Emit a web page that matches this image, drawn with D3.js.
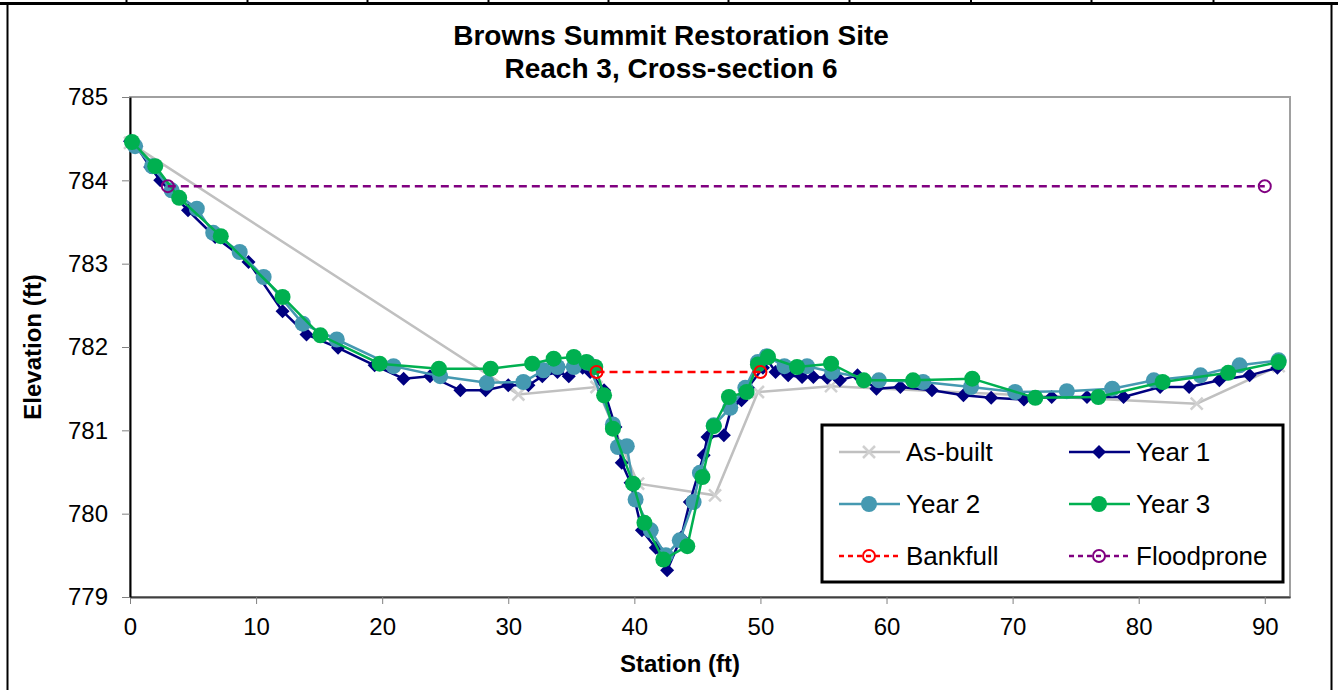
<!DOCTYPE html>
<html>
<head>
<meta charset="utf-8">
<script src="https://cdn.jsdelivr.net/npm/d3@7"></script>
<style>
  body { margin: 0; background: #fff; }
  text { font-family: "Liberation Sans", Arial, sans-serif; }
</style>
</head>
<body>
<div id="chart"></div>
<script>
// station (ft) / elevation (ft) pairs
var asBuiltX = [0, 30.8, 37.0, 40.3, 46.4, 49.8, 55.6, 84.6, 91.1];
var asBuiltY = [784.45, 781.43, 781.52, 780.36, 780.22, 781.46, 781.53, 781.32, 781.77];

var year1X = [0, 0.5, 1.6, 2.4, 4.6, 6.75, 9.4, 12.1, 14.0, 16.5, 19.4, 21.7, 23.8, 26.2, 28.2, 30.0,
  31.6, 32.7, 33.9, 34.8, 35.9, 36.5, 37.6, 38.5, 39.0, 39.7, 40.6, 41.7, 42.6, 43.7, 44.4, 45.5,
  45.8, 47.1, 47.7, 48.5, 49.0, 50.2, 50.4, 51.2, 52.2, 53.3, 54.2, 55.3, 56.3, 57.7, 59.2, 61.1,
  63.6, 66.1, 68.3, 70.9, 73.1, 75.9, 78.8, 81.7, 84.0, 86.4, 88.8, 91.0];
var year1Y = [784.47, 784.41, 784.16, 784.0, 783.64, 783.32, 783.02, 782.43, 782.15, 781.99, 781.78, 781.62,
  781.65, 781.48, 781.48, 781.54, 781.54, 781.65, 781.7, 781.65, 781.75, 781.7, 781.48, 781.04, 780.61,
  780.37, 779.8, 779.59, 779.32, 779.71, 780.14, 780.7, 780.92, 780.94, 781.27, 781.36, 781.51, 781.75,
  781.88, 781.7, 781.66, 781.64, 781.64, 781.63, 781.6, 781.66, 781.5, 781.52, 781.48, 781.42, 781.39,
  781.37, 781.4, 781.4, 781.4, 781.52, 781.52, 781.6, 781.66, 781.75];

var year2X = [0.4, 1.75, 3.3, 5.3, 6.6, 8.7, 10.6, 13.7, 16.4, 20.9, 24.6, 28.3, 31.2, 32.8, 33.9, 35.2,
  36.3, 38.3, 38.7, 39.4, 40.1, 41.3, 42.5, 43.6, 44.7, 45.2, 46.3, 47.6, 48.8, 49.8, 50.5, 51.9,
  53.7, 55.7, 59.4, 62.9, 66.7, 70.2, 74.3, 77.9, 81.2, 84.9, 88.0, 91.1];
var year2Y = [784.41, 784.17, 783.88, 783.66, 783.37, 783.14, 782.84, 782.28, 782.09, 781.77, 781.65, 781.57,
  781.58, 781.72, 781.76, 781.76, 781.81, 781.07, 780.8, 780.81, 780.17, 779.8, 779.5, 779.68, 780.14,
  780.49, 781.06, 781.27, 781.51, 781.82, 781.89, 781.77, 781.77, 781.7, 781.6, 781.58, 781.52, 781.46,
  781.47, 781.5, 781.6, 781.66, 781.78, 781.84];

var year3X = [0.16, 2.0, 3.9, 7.2, 12.1, 15.1, 19.8, 24.5, 28.6, 31.9, 33.6, 35.2, 36.2, 36.9, 37.6, 38.3,
  39.9, 40.8, 42.3, 44.2, 45.4, 46.3, 47.5, 48.9, 49.8, 50.6, 52.9, 55.6, 58.2, 62.1, 66.8, 71.8,
  76.8, 81.9, 87.1, 91.1];
var year3Y = [784.46, 784.17, 783.79, 783.33, 782.6, 782.14, 781.8, 781.74, 781.74, 781.8, 781.86, 781.88,
  781.82, 781.76, 781.42, 781.02, 780.36, 779.89, 779.45, 779.61, 780.44, 781.05, 781.4, 781.46, 781.79,
  781.88, 781.76, 781.8, 781.6, 781.6, 781.62, 781.39, 781.4, 781.58, 781.69, 781.82];

var bankfullX = [37.0, 50.0];
var bankfullY = [781.7, 781.7];
var floodX = [3.0, 90.0];
var floodY = [783.93, 783.93];

var xTicks = [0, 10, 20, 30, 40, 50, 60, 70, 80, 90];
var yTicks = [779, 780, 781, 782, 783, 784, 785];
var titleLines = ["Browns Summit Restoration Site", "Reach 3, Cross-section 6"];

var svgWidth = 1338;
var svgHeight = 690;
var margin = { top: 97, right: 48, bottom: 93, left: 130 };
var width = svgWidth - margin.left - margin.right;
var height = svgHeight - margin.top - margin.bottom;

var svg = d3.select("#chart")
  .append("svg")
  .attr("width", svgWidth)
  .attr("height", svgHeight);

// spreadsheet frame around the chart
svg.append("rect")
  .attr("x", 7.5).attr("y", 3.5)
  .attr("width", 1324).attr("height", 700)
  .attr("fill", "none").attr("stroke", "#000").attr("stroke-width", 2);
svg.append("line")
  .attr("x1", 0).attr("x2", svgWidth).attr("y1", 3.5).attr("y2", 3.5)
  .attr("stroke", "#000").attr("stroke-width", 3);
[126.5, 247.5, 367.5, 488.5, 608.5, 728.5, 849.5, 971, 1091.5, 1213.5].forEach(function(cx) {
  svg.append("line")
    .attr("x1", cx).attr("x2", cx).attr("y1", 0).attr("y2", 4)
    .attr("stroke", "#000").attr("stroke-width", 2);
});

var chartGroup = svg.append("g")
  .attr("transform", `translate(${margin.left}, ${margin.top})`);

var x = d3.scaleLinear().domain([0, 92]).range([0, width]);
var y = d3.scaleLinear().domain([779, 785]).range([height, 0]);

// plot area border (top/right grey)
chartGroup.append("rect")
  .attr("width", width).attr("height", height)
  .attr("fill", "none").attr("stroke", "#a0a0a0").attr("stroke-width", 2);

var bottomAxis = d3.axisBottom(x).tickValues(xTicks).tickSize(7).tickSizeOuter(0);
var leftAxis = d3.axisLeft(y).tickValues(yTicks).tickFormat(d3.format("d")).tickSize(8).tickSizeOuter(0);

var xg = chartGroup.append("g")
  .attr("transform", `translate(0, ${height})`)
  .call(bottomAxis);
xg.select(".domain").attr("stroke", "#404040").attr("stroke-width", 2);
xg.selectAll(".tick line").attr("stroke", "#808080");
xg.selectAll("text").attr("font-size", 24).attr("fill", "#000").attr("y", 15).attr("dy", "0.95em");

var yg = chartGroup.append("g").call(leftAxis);
yg.select(".domain").attr("stroke", "#000").attr("stroke-width", 2);
yg.selectAll(".tick line").attr("stroke", "#808080");
yg.selectAll("text").attr("font-size", 24).attr("fill", "#000").attr("x", -22);

// titles
svg.selectAll(".title")
  .data(titleLines)
  .enter()
  .append("text")
  .attr("x", 671)
  .attr("y", (d, i) => 45 + i * 33)
  .attr("text-anchor", "middle")
  .attr("font-size", 28)
  .attr("font-weight", "bold")
  .text(d => d);

svg.append("text")
  .attr("x", 680).attr("y", 672)
  .attr("text-anchor", "middle")
  .attr("font-size", 24).attr("font-weight", "bold")
  .text("Station (ft)");

svg.append("text")
  .attr("transform", "translate(41, 347) rotate(-90)")
  .attr("text-anchor", "middle")
  .attr("font-size", 24).attr("font-weight", "bold")
  .text("Elevation (ft)");

function pairs(xs, ys) {
  return xs.map((d, i) => [d, ys[i]]);
}

var line = d3.line().x(d => x(d[0])).y(d => y(d[1]));

var series = [
  { name: "As-built", data: pairs(asBuiltX, asBuiltY), color: "#c0c0c0", marker: "cross", dash: null },
  { name: "Year 1", data: pairs(year1X, year1Y), color: "#000080", marker: "diamond", dash: null },
  { name: "Year 2", data: pairs(year2X, year2Y), color: "#4599b1", marker: "circle", dash: null },
  { name: "Year 3", data: pairs(year3X, year3Y), color: "#00b050", marker: "circle", dash: null },
  { name: "Bankfull", data: pairs(bankfullX, bankfullY), color: "#ff0000", marker: "open", dash: "8,5" },
  { name: "Floodprone", data: pairs(floodX, floodY), color: "#800080", marker: "open", dash: "8,5" }
];

function drawMarker(g, s, cx, cy) {
  if (s.marker === "cross") {
    g.append("path")
      .attr("d", `M${cx - 6},${cy - 6}L${cx + 6},${cy + 6}M${cx - 6},${cy + 6}L${cx + 6},${cy - 6}`)
      .attr("stroke", "#d0d0d0").attr("stroke-width", 2.5);
  } else if (s.marker === "diamond") {
    g.append("path")
      .attr("d", `M${cx},${cy - 7}L${cx + 7},${cy}L${cx},${cy + 7}L${cx - 7},${cy}Z`)
      .attr("fill", s.color);
  } else if (s.marker === "circle") {
    g.append("circle").attr("cx", cx).attr("cy", cy).attr("r", 8).attr("fill", s.color);
  } else {
    g.append("circle").attr("cx", cx).attr("cy", cy).attr("r", 6)
      .attr("fill", "none").attr("stroke", s.color).attr("stroke-width", 2);
  }
}

series.forEach(function(s) {
  var g = chartGroup.append("g");
  g.append("path")
    .datum(s.data)
    .attr("d", line)
    .attr("fill", "none")
    .attr("stroke", s.color)
    .attr("stroke-width", 2.5)
    .attr("stroke-dasharray", s.dash);
  s.data.forEach(d => drawMarker(g, s, x(d[0]), y(d[1])));
});

// legend
var legend = svg.append("g").attr("transform", "translate(822, 425)");
legend.append("rect")
  .attr("width", 461).attr("height", 157)
  .attr("fill", "#fff").attr("stroke", "#000").attr("stroke-width", 3);

series.forEach(function(s, i) {
  var col = i % 2, row = Math.floor(i / 2);
  var lx = 17 + col * 230, ly = 27 + row * 52;
  var g = legend.append("g");
  g.append("line")
    .attr("x1", lx).attr("x2", lx + 61).attr("y1", ly).attr("y2", ly)
    .attr("stroke", s.color).attr("stroke-width", 2.5)
    .attr("stroke-dasharray", s.dash ? "5,4" : null);
  drawMarker(g, s, lx + 30, ly);
  g.append("text")
    .attr("x", lx + 67).attr("y", ly + 9)
    .attr("font-size", 26)
    .text(s.name);
});
</script>
</body>
</html>
